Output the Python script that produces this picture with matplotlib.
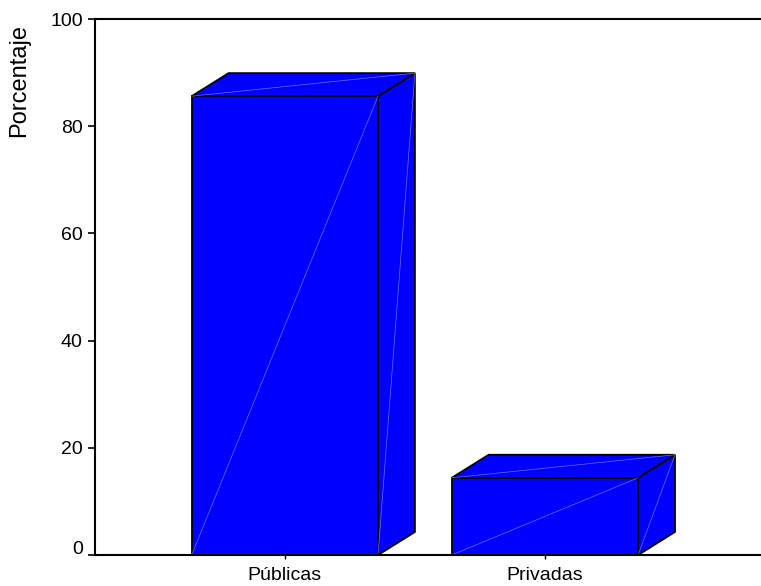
import matplotlib
matplotlib.use("Agg")
import matplotlib.pyplot as plt
import matplotlib.transforms as mtransforms
from matplotlib.patches import Polygon

plt.rcParams['font.family'] = ['Liberation Sans', 'DejaVu Sans']

categories = ["Públicas", "Privadas"]
values = [85.6, 14.4]
yticks = [0, 20, 40, 60, 80, 100]
ylabel = "Porcentaje"

W, H = 761, 586
fig = plt.figure(figsize=(W / 100, H / 100), dpi=100)
ax = fig.add_axes([95 / W, 31 / H, (W - 95) / W + 0.01, (555 - 19) / H])

xpos = list(range(len(categories)))
bar_w = 0.7165
ddx = 0.1418   # depth offset in category units
ddy = 4.3      # depth offset in value units

face = (0, 0, 1)
edge = 'black'
lw = 1.3
hl = (0.55, 0.55, 1.0)

for x, v in zip(xpos, values):
    x0, x1 = x - bar_w / 2, x + bar_w / 2
    side = [(x1, 0), (x1 + ddx, ddy), (x1 + ddx, v + ddy), (x1, v)]
    top = [(x0, v), (x1, v), (x1 + ddx, v + ddy), (x0 + ddx, v + ddy)]
    front = [(x0, 0), (x1, 0), (x1, v), (x0, v)]
    for poly in (side, top, front):
        ax.add_patch(Polygon(poly, closed=True, facecolor=face, edgecolor=edge,
                             linewidth=lw, joinstyle='miter', zorder=3, clip_on=False))
    ax.plot([x0, x1], [0, v], color=hl, lw=0.5, zorder=4, alpha=0.8)
    ax.plot([x1, x1 + ddx], [0, v + ddy], color=hl, lw=0.5, zorder=4, alpha=0.8)
    ax.plot([x0, x1 + ddx], [v, v + ddy], color=hl, lw=0.5, zorder=4, alpha=0.8)

ax.set_xlim(-0.73, 1.86)
ax.set_ylim(0, 100)
ax.set_yticks(yticks)
ax.set_yticklabels([str(t) for t in yticks])
ax.set_xticks(xpos)
ax.set_xticklabels(categories)

ax.set_ylabel(ylabel, fontsize=17)
ax.yaxis.set_label_coords(19 / W, 1 - 80.5 / H, transform=fig.transFigure)
ax.yaxis.label.set_va('center')
ax.yaxis.label.set_ha('center')

for s in ('left', 'top', 'bottom'):
    ax.spines[s].set_linewidth(1.5)
    ax.spines[s].set_zorder(5)
ax.spines['right'].set_visible(False)
ax.tick_params(axis='y', length=5, width=1.2, pad=3.8, labelsize=14)
ax.tick_params(axis='x', length=3, width=1.0, pad=6, labelsize=14)

# lift the "0" label a little, as in the reference
lbl0 = ax.get_yticklabels()[0]
lbl0.set_transform(lbl0.get_transform() +
                   mtransforms.ScaledTranslation(0, 8 / 100, fig.dpi_scale_trans))

fig.savefig("out.png", dpi=100)
